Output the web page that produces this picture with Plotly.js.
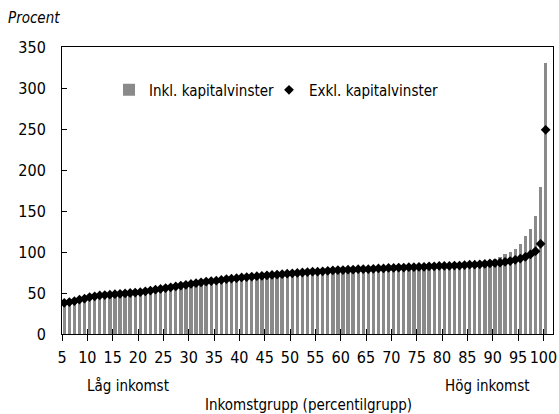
<!DOCTYPE html>
<html>
<head>
<meta charset="utf-8">
<script src="https://cdn.plot.ly/plotly-3.0.1.min.js"></script>
<style>html,body{margin:0;padding:0;background:#fff}#chart{width:559px;height:414px}</style>
</head>
<body>
<div id="chart"></div>
<script>
// Percentile groups 5..100
const percentiles = [5,6,7,8,9,10,11,12,13,14,15,16,17,18,19,20,21,22,23,24,25,26,27,28,29,30,31,32,33,34,35,36,37,38,39,40,41,42,43,44,45,46,47,48,49,50,51,52,53,54,55,56,57,58,59,60,61,62,63,64,65,66,67,68,69,70,71,72,73,74,75,76,77,78,79,80,81,82,83,84,85,86,87,88,89,90,91,92,93,94,95,96,97,98,99,100];

// Inkl. kapitalvinster (bars)
const inklValues = [37,38,39,41,42,44,45,46,46.5,47,47.5,48,48.5,49,49.5,50,51,52,53,54,55,56,57,58,59,60,61,62,63,63.5,64,65,66,66.5,67,68,68.5,69,69.5,70,70.5,71,71.5,72,72.5,73,73.5,74,74.5,75,75,75.5,76,76.5,77,77,77.5,78,78,78.5,78.5,79,79.5,79.5,80,80,80.5,81,81,81.5,81.5,82,82.5,82.5,83,83,84,85,85.5,86,87,87.5,88,88.5,90,92,94,97,100,104,110,119,128,144,179,331];

// Exkl. kapitalvinster (markers)
const exklValues = [38,39,40,42,43,45,46,47,47.5,48,48.5,49,49.5,50,50.5,51,52,53,54,55,56,57,58,59,60,61,62,63,64,64.5,65,66,67,67.5,68,69,69.5,70,70.5,71,71.5,72,72.5,73,73.5,74,74.5,75,75.5,76,76,76.5,77,77.5,78,78,78.5,78.5,79,79,79,79.5,80,80,80.5,80.5,81,81,81.5,81.5,82,82,82.5,82.5,83,83,83,83.5,83.5,84,84.5,84.5,85,85.5,86,86.5,87,88,89,90.5,92,94,97,101,110,249];

const xTickVals = [5,10,15,20,25,30,35,40,45,50,55,60,65,70,75,80,85,90,95,100];

const FONT = '"Liberation Sans Narrow", "DejaVu Sans Condensed", "Roboto Condensed", Arial, sans-serif';

const traces = [
  {
    // empty helper trace so that the labelled x axis is drawn
    type: 'scatter', mode: 'markers', x: [], y: [],
    xaxis: 'x', yaxis: 'y', showlegend: false, hoverinfo: 'skip'
  },
  {
    type: 'bar',
    name: 'Inkl. kapitalvinster',
    x: percentiles,
    y: inklValues,
    xaxis: 'x2',
    width: 0.66,
    legend: 'legend',
    marker: {color: '#8a8a8a', line: {width: 0}},
    hoverinfo: 'x+y'
  },
  {
    type: 'scatter',
    mode: 'markers',
    name: 'Exkl. kapitalvinster',
    x: percentiles,
    y: exklValues,
    xaxis: 'x2',
    legend: 'legend2',
    marker: {symbol: 'diamond', size: 7.5, color: '#000000', line: {width: 0}},
    hoverinfo: 'x+y'
  }
];

const legendCommon = {
  orientation: 'h',
  xanchor: 'left',
  y: 0.85, yanchor: 'middle',
  bgcolor: 'rgba(0,0,0,0)',
  itemwidth: 30,
  font: {family: FONT, size: 15, color: '#000'}
};

const layout = {
  width: 559,
  height: 414,
  margin: {l: 62, r: 6, t: 47, b: 80},
  paper_bgcolor: '#ffffff',
  plot_bgcolor: '#ffffff',
  font: {family: FONT, size: 15, color: '#000000'},
  showlegend: true,
  legend: Object.assign({}, legendCommon, {x: (109-62)/491}),
  legend2: Object.assign({}, legendCommon, {x: (269-62)/491}),
  bargap: 0,
  xaxis: {
    range: [5, 101.9],
    tickvals: xTickVals,
    ticks: 'outside',
    ticklen: 6,
    tickcolor: '#000',
    showline: true,
    linecolor: '#000',
    linewidth: 1,
    mirror: true,
    showgrid: false,
    zeroline: false,
    ticklabelstandoff: 3,
    tickfont: {family: FONT, size: 16},
    fixedrange: true
  },
  xaxis2: {
    overlaying: 'x',
    side: 'bottom',
    range: [4.55, 101.45],
    tick0: 4.55,
    dtick: 5,
    ticks: 'inside',
    ticklen: 5,
    tickcolor: '#000',
    showticklabels: false,
    showline: false,
    showgrid: false,
    zeroline: false,
    fixedrange: true
  },
  yaxis: {
    range: [0, 350],
    dtick: 50,
    ticks: 'inside',
    ticklen: 5,
    tickcolor: '#000',
    showline: true,
    linecolor: '#000',
    linewidth: 1,
    mirror: true,
    showgrid: false,
    zeroline: false,
    ticklabelstandoff: 12,
    tickfont: {family: FONT, size: 16},
    fixedrange: true
  },
  annotations: [
    {text: '<i>Procent</i>', xref: 'paper', yref: 'paper', x: -0.114, y: 1.101, xanchor: 'left', yanchor: 'middle', showarrow: false, font: {family: FONT, size: 15}},
    {text: 'Låg inkomst', xref: 'paper', yref: 'paper', x: (128-62)/491, y: (334-386)/287, xanchor: 'center', yanchor: 'middle', showarrow: false, font: {family: FONT, size: 15}},
    {text: 'Hög inkomst', xref: 'paper', yref: 'paper', x: (487-62)/491, y: (334-386)/287, xanchor: 'center', yanchor: 'middle', showarrow: false, font: {family: FONT, size: 15}},
    {text: 'Inkomstgrupp (percentilgrupp)', xref: 'paper', yref: 'paper', x: (308-62)/491, y: (334-405)/287, xanchor: 'center', yanchor: 'middle', showarrow: false, font: {family: FONT, size: 15}}
  ]
};

Plotly.newPlot('chart', traces, layout, {displayModeBar: false, staticPlot: true});
</script>
</body>
</html>
